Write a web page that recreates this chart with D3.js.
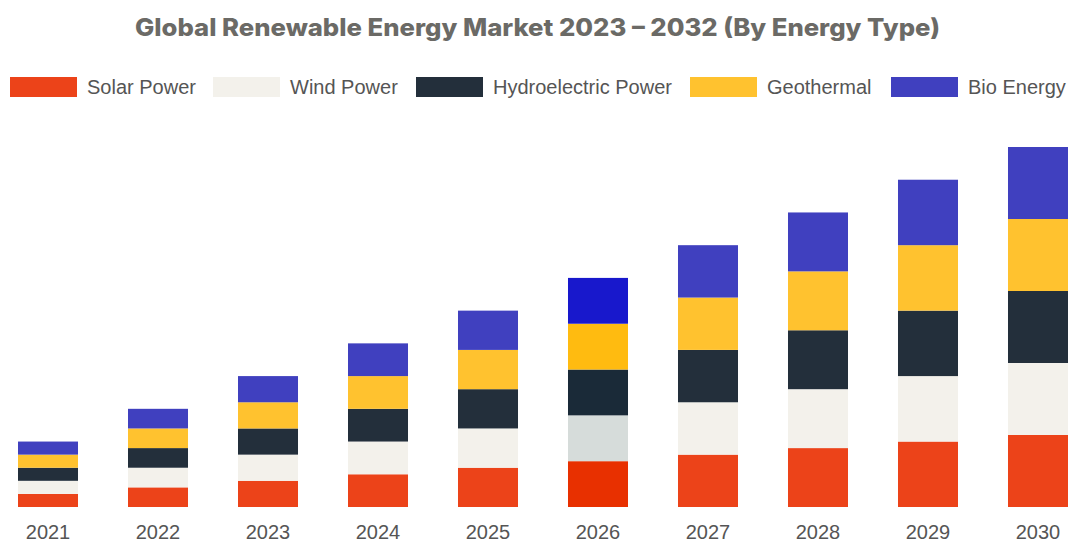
<!DOCTYPE html>
<html><head><meta charset="utf-8">
<script src="https://cdn.jsdelivr.net/npm/d3@7"></script>
<style>body{margin:0;background:#fff}svg{display:block}</style>
</head><body>
<svg id="c" width="1070" height="546"></svg>
<script>
const years = ["2021","2022","2023","2024","2025","2026","2027","2028","2029","2030"];
const seriesNames = ["Solar Power","Wind Power","Hydroelectric Power","Geothermal","Bio Energy"];
const solar = [0.4,0.6,0.8,1.0,1.2,1.4,1.6,1.8,2.0,2.2];
const wind  = [0.4,0.6,0.8,1.0,1.2,1.4,1.6,1.8,2.0,2.2];
const hydro = [0.4,0.6,0.8,1.0,1.2,1.4,1.6,1.8,2.0,2.2];
const geo   = [0.4,0.6,0.8,1.0,1.2,1.4,1.6,1.8,2.0,2.2];
const bio   = [0.4,0.6,0.8,1.0,1.2,1.4,1.6,1.8,2.0,2.2];
const colors = ["#EC4319","#F3F1EB","#232F3B","#FFC22F","#4040BF"];
const highlightYear = "2026";
const highlightColors = ["#E83000","#D6DCDA","#1A2A38","#FFBB10","#1818CC"];

const keys = ["solar","wind","hydro","geo","bio"];
const table = years.map((y,i)=>({year:y,solar:solar[i],wind:wind[i],hydro:hydro[i],geo:geo[i],bio:bio[i]}));
const stacked = d3.stack().keys(keys)(table);

const svg = d3.select("#c");
const x = d3.scaleBand().domain(years).range([18, 1068]).paddingInner(0.4545).paddingOuter(0);
const y = d3.scaleLinear().domain([0, 11]).range([507, 147]);

svg.append("text").attr("x",135).attr("y",36)
  .attr("font-family","Inter, 'Open Sans', sans-serif").attr("font-weight",800)
  .attr("font-size",24).attr("fill","#6b6a66")
  .attr("textLength",805).attr("lengthAdjust","spacingAndGlyphs")
  .text("Global Renewable Energy Market 2023 – 2032 (By Energy Type)");

// legend
const legendX = [10, 213, 416, 690, 891];
const lg = svg.append("g");
seriesNames.forEach((n,i)=>{
  lg.append("rect").attr("x",legendX[i]).attr("y",77).attr("width",67).attr("height",20).attr("fill",colors[i]);
  lg.append("text").attr("x",legendX[i]+77).attr("y",94).attr("font-family","'Liberation Sans', Arial, sans-serif")
    .attr("font-size",20).attr("fill","#555").text(n);
});

const g = svg.append("g");
stacked.forEach((s,si)=>{
  g.selectAll(null).data(s).enter().append("rect")
    .attr("x",d=>x(d.data.year)).attr("width",x.bandwidth())
    .attr("y",d=>y(d[1])).attr("height",d=>y(d[0])-y(d[1]))
    .attr("fill",d=> d.data.year===highlightYear ? highlightColors[si] : colors[si]);
});

const ax = svg.append("g").attr("transform","translate(0,507)")
  .call(d3.axisBottom(x).tickSize(0).tickPadding(18));
ax.select(".domain").remove();
ax.selectAll("text").attr("font-family","'Liberation Sans', Arial, sans-serif").attr("font-size",20).attr("fill","#555");
</script>
</body></html>
